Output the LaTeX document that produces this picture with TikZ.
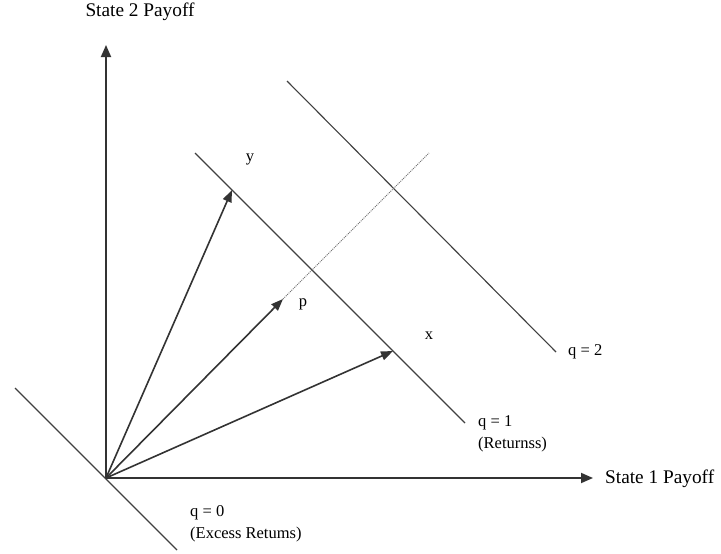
\documentclass[tikz,border=0pt]{standalone}
\usepackage{fontspec}
\setmainfont{Liberation Serif}
\usetikzlibrary{arrows.meta}
\begin{document}
\begin{tikzpicture}[x=1pt,y=-1pt,
  axis/.style={line width=1.8pt,draw=black!80,-{Triangle[length=12pt,width=10pt]}},
  vec/.style={line width=1.6pt,draw=black!80,-{Triangle[length=12pt,width=9pt]}},
  qline/.style={line width=1.1pt,draw=black!75},
  dotline/.style={line width=1pt,draw=black!55,densely dotted},
  lbl/.style={font=\fontsize{16.5}{19}\selectfont,inner sep=0pt},
  axlbl/.style={font=\fontsize{19.3}{22}\selectfont,inner sep=0pt}]
\useasboundingbox (0,0) rectangle (721,554);
% points
\coordinate (O) at (106,478);
\coordinate (ytop) at (106,45);
\coordinate (xend) at (593,478);
\coordinate (q0a) at (15,388);
\coordinate (q0b) at (177,550);
\coordinate (q1a) at (195,153);
\coordinate (q1b) at (465,423);
\coordinate (q2a) at (287,81);
\coordinate (q2b) at (556,352);
\coordinate (Y) at (232,190);
\coordinate (P) at (283,299);
\coordinate (X) at (393,351);
\coordinate (dend) at (429,153);
% labels
\node[axlbl] (s2) at (140,12) {State 2 Payoff};
\node[axlbl,anchor=west] (s1) at (605,479) {State 1 Payoff};
\node[lbl] (ly) at (250,159) {y};
\node[lbl] (lp) at (303,304) {p};
\node[lbl] (lx) at (429,336) {x};
\node[lbl,anchor=west] (l2) at (568,352) {q = 2};
\node[lbl,anchor=west] (l1) at (478,423) {q = 1};
\node[lbl,anchor=west] (l1b) at (478,445) {(Returnss)};
\node[lbl,anchor=west] (l0) at (190,513) {q = 0};
\node[lbl,anchor=west] (l0b) at (190,535) {(Excess Retums)};
% lines
\draw[qline] (q0a) -- (q0b);
\draw[qline] (q1a) -- (q1b);
\draw[qline] (q2a) -- (q2b);
\draw[dotline] (P) -- (dend);
\draw[axis] (O) -- (ytop);
\draw[axis] (O) -- (xend);
\draw[vec] (O) -- (Y);
\draw[vec] (O) -- (P);
\draw[vec] (O) -- (X);
\end{tikzpicture}
\end{document}
